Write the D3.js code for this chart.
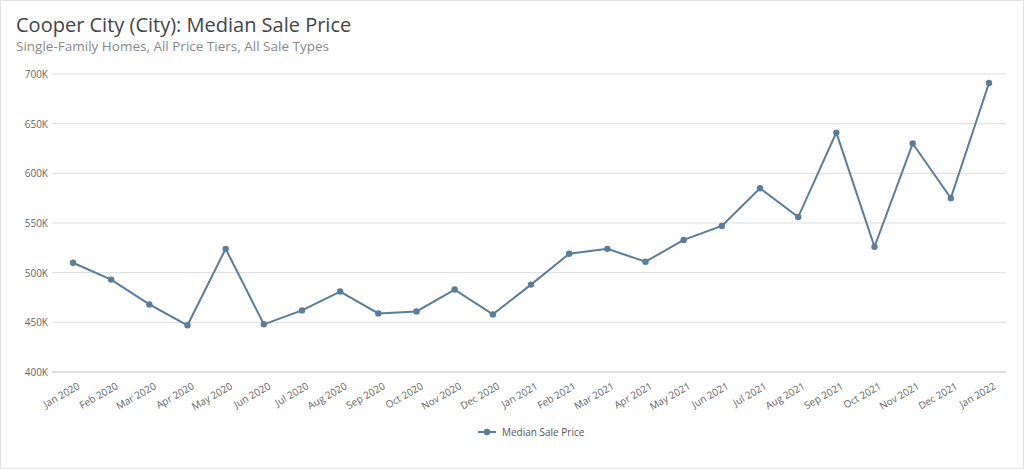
<!DOCTYPE html>
<html><head><meta charset="utf-8">
<script src="https://cdn.jsdelivr.net/npm/d3@7"></script>
<style>body{margin:0;background:#fff;font-family:"Open Sans",sans-serif}</style>
</head><body><svg id="chart" width="1024" height="469"></svg>
<script>
// month labels and median sale prices
var months = ["Jan 2020","Feb 2020","Mar 2020","Apr 2020","May 2020","Jun 2020","Jul 2020","Aug 2020","Sep 2020","Oct 2020","Nov 2020","Dec 2020",
  "Jan 2021","Feb 2021","Mar 2021","Apr 2021","May 2021","Jun 2021","Jul 2021","Aug 2021","Sep 2021","Oct 2021","Nov 2021","Dec 2021","Jan 2022"];
var prices = [510000,493000,468000,447000,524000,448000,462000,481000,459000,461000,483000,458000,
  488000,519000,524000,511000,533000,547000,585000,556000,641000,526000,630000,575000,691000];
var yTicks = [400000,450000,500000,550000,600000,650000,700000];

var svg = d3.select("#chart");
var color = "#5a7d9a";

svg.append("rect").attr("x",0.5).attr("y",0.5).attr("width",1023).attr("height",468)
  .attr("fill","none").attr("stroke","#e2e2e2");

svg.append("text").attr("x",16).attr("y",32).attr("font-size",20).attr("fill","#444")
  .text("Cooper City (City): Median Sale Price");
svg.append("text").attr("x",16).attr("y",51).attr("font-size",13.5).attr("fill","#888")
  .text("Single-Family Homes, All Price Tiers, All Sale Types");

var x = d3.scalePoint().domain(months).range([73,989]);
var y = d3.scaleLinear().domain([400000,700000]).range([372,74]);

// gridlines
svg.append("g").selectAll("line").data(yTicks).join("line")
  .attr("x1",52).attr("x2",1006).attr("y1",d=>y(d)).attr("y2",d=>y(d))
  .attr("stroke",d=>d==400000?"#bbb":"#ddd");

svg.append("g").selectAll("text").data(yTicks).join("text")
  .attr("x",48).attr("y",d=>y(d)+4).attr("text-anchor","end")
  .attr("font-size",10).attr("fill","#666").text(d=>d/1000+"K");

svg.append("g").selectAll("text").data(months).join("text")
  .attr("transform",d=>"translate("+(x(d)+4)+",382) rotate(-30)")
  .attr("text-anchor","end").attr("dy","0.7em")
  .attr("font-size",10).attr("fill","#666").text(d=>d);

var line = d3.line().x((d,i)=>x(months[i])).y(d=>y(d));
svg.append("path").datum(prices).attr("d",line).attr("fill","none")
  .attr("stroke",color).attr("stroke-width",2);
svg.append("g").selectAll("circle").data(prices).join("circle")
  .attr("cx",(d,i)=>x(months[i])).attr("cy",d=>y(d)).attr("r",3.2).attr("fill",color);

// legend
var lg = svg.append("g").attr("transform","translate(478,432)");
lg.append("line").attr("x1",0).attr("x2",18).attr("stroke",color).attr("stroke-width",2);
lg.append("circle").attr("cx",9).attr("r",3.2).attr("fill",color);
lg.append("text").attr("x",24).attr("y",3.5).attr("font-size",10).attr("fill","#555").text("Median Sale Price");
</script></body></html>
